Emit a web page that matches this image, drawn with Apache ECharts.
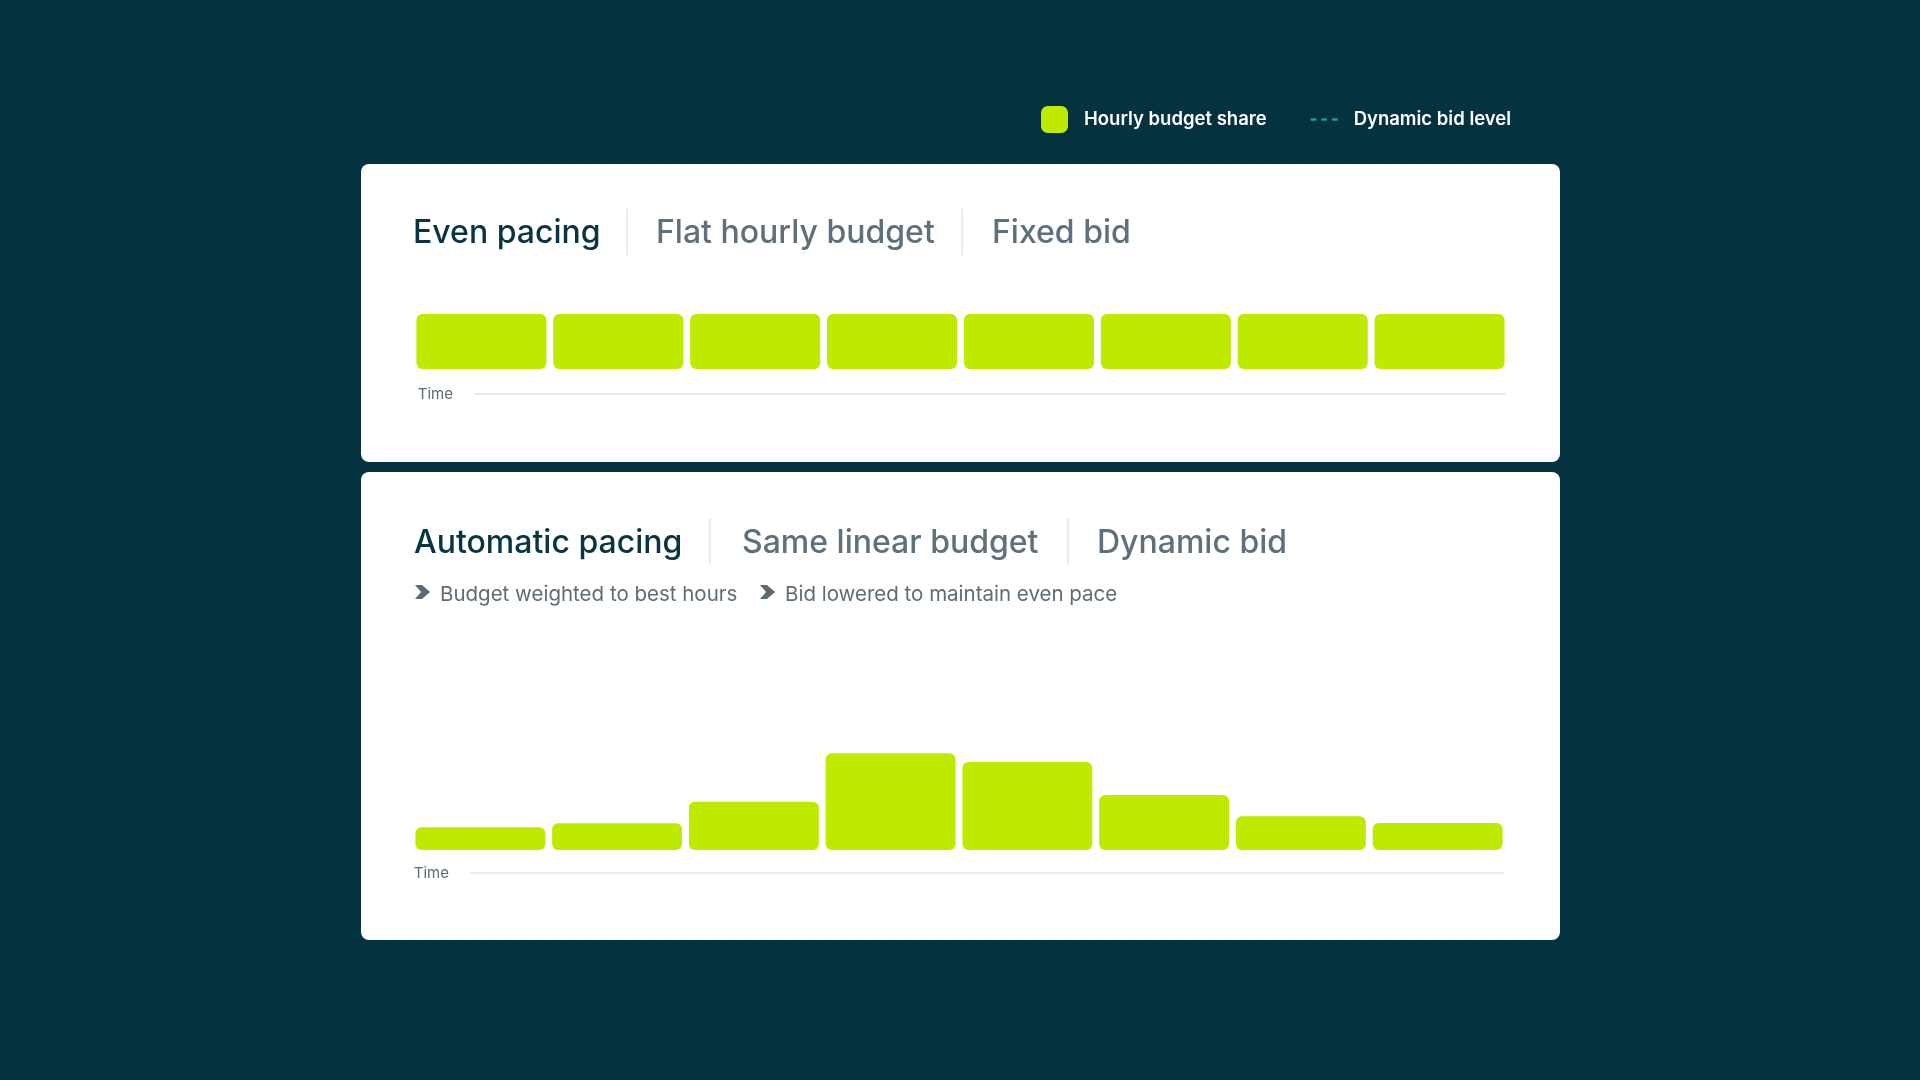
<!DOCTYPE html>
<html lang="en">
<head>
    <meta charset="utf-8">
    <title>Even pacing vs automatic pacing</title>
    <script src="https://cdn.jsdelivr.net/npm/echarts@6/dist/echarts.min.js"></script>
    <style>
        html, body { margin: 0; padding: 0; background: #04333f; }
        #chart { width: 1920px; height: 1080px; }
    </style>
</head>
<body>
<div id="chart"></div>

<script type="text/javascript">
  // time blocks of the day (not labelled in the picture)
  const timeSlots = ['00-03', '03-06', '06-09', '09-12', '12-15', '15-18', '18-21', '21-24'];
  // hourly budget share, % of daily budget
  const evenShare = [12.5, 12.5, 12.5, 12.5, 12.5, 12.5, 12.5, 12.5];
  const weightedShare = [5.7, 6.7, 12.1, 24.3, 22.1, 13.8, 8.5, 6.8];
  // dynamic bid level: in the legend, no line drawn
  const bidLevel = [];

  const topTabs = ['Even pacing', 'Flat hourly budget', 'Fixed bid'];
  const bottomTabs = ['Automatic pacing', 'Same linear budget', 'Dynamic bid'];
  const bottomNotes = ['Budget weighted to best hours', 'Bid lowered to maintain even pace'];

  const FONT = 'Inter, "Noto Sans", sans-serif';
  const LIME = '#beea00';
  const TEAL = '#1d9c8f';
  const ACTIVE = '#083541';
  const MUTED = '#5e707b';

  // tab headings with thin separators
  function tabRow(labels, xs, sepXs, top, sepTop, sepBottom) {
      const els = labels.map((t, i) => ({
          type: 'text',
          style: {
              text: t, x: xs[i], y: top,
              fill: i === 0 ? ACTIVE : MUTED,
              font: '500 32px ' + FONT,
              verticalAlign: 'top'
          }
      }));
      sepXs.forEach(x => els.push({
          type: 'line',
          shape: { x1: x, y1: sepTop, x2: x, y2: sepBottom },
          style: { stroke: '#e1e7ec', lineWidth: 1.5 }
      }));
      return els;
  }

  function chevron(x, y) {
      return {
          type: 'polygon',
          shape: { points: [[x, y], [x + 7, y], [x + 15, y + 7], [x + 7, y + 14], [x, y + 14], [x + 6, y + 7]] },
          style: { fill: '#5b6b74' }
      };
  }

  function note(text, x, y) {
      return {
          type: 'text',
          style: { text: text, x: x, y: y, fill: '#5d6d77', font: '400 20.5px ' + FONT, verticalAlign: 'top' }
      };
  }

  function timeAxis(gridIndex) {
      return {
          gridIndex: gridIndex, type: 'value', min: 0, max: 1,
          name: 'Time', nameLocation: 'start', nameGap: 22,
          nameTextStyle: { color: '#5d6b75', fontSize: 15, fontFamily: FONT },
          axisLine: { show: true, lineStyle: { color: '#e6ebef', width: 2 } },
          axisTick: { show: false }, axisLabel: { show: false }, splitLine: { show: false }
      };
  }

  function barAxis(gridIndex) {
      return {
          gridIndex: gridIndex, type: 'category', data: timeSlots,
          axisLine: { show: false }, axisTick: { show: false }, axisLabel: { show: false }
      };
  }

  function hiddenY(gridIndex, max) {
      return { gridIndex: gridIndex, type: 'value', min: 0, max: max, show: false };
  }

  const chart = echarts.init(document.getElementById('chart'));

  const option = {
      backgroundColor: '#04333f',
      animation: false,
      legend: {
          left: 1041, top: 106, padding: 0,
          itemWidth: 27, itemHeight: 27, itemGap: 44,
          data: [
              { name: 'Hourly budget share', icon: 'roundRect' },
              {
                  name: 'Dynamic bid level',
                  icon: 'path://M0 0h6v2.5H0z M11 0h6v2.5h-6z M22 0h6v2.5h-6z',
                  itemStyle: { color: TEAL, borderWidth: 0 }
              }
          ],
          formatter: n => '{g|}' + n,
          textStyle: {
              color: '#ffffff', fontSize: 18.5, fontWeight: 600, fontFamily: FONT,
              rich: { g: { width: 11 } }
          }
      },
      grid: [
          { left: 413, top: 314, width: 1095, height: 55 },
          { left: 475, top: 393, width: 1030, height: 1 },
          { left: 412, top: 651, width: 1094, height: 199 },
          { left: 471, top: 872, width: 1032, height: 1 }
      ],
      xAxis: [barAxis(0), timeAxis(1), barAxis(2), timeAxis(3)],
      yAxis: [hiddenY(0, 12.5), hiddenY(1, 1), hiddenY(2, 50), hiddenY(3, 1)],
      series: [
          {
              name: 'Hourly budget share', type: 'bar', xAxisIndex: 0, yAxisIndex: 0,
              data: evenShare, barCategoryGap: '5%',
              itemStyle: { color: LIME, borderRadius: 6 }
          },
          {
              name: 'Hourly budget share', type: 'bar', xAxisIndex: 2, yAxisIndex: 2,
              data: weightedShare, barCategoryGap: '5%',
              itemStyle: { color: LIME, borderRadius: 6 }
          },
          {
              name: 'Dynamic bid level', type: 'line', xAxisIndex: 2, yAxisIndex: 2,
              data: bidLevel, symbol: 'none',
              lineStyle: { color: TEAL, width: 2.5, type: [6, 5] },
              itemStyle: { color: TEAL }
          }
      ],
      graphic: [
          { type: 'rect', z: -10, shape: { x: 361, y: 164, width: 1199, height: 298, r: 8 }, style: { fill: '#ffffff' } },
          { type: 'rect', z: -10, shape: { x: 361, y: 472, width: 1199, height: 468, r: 8 }, style: { fill: '#ffffff' } },
          ...tabRow(topTabs, [413, 656, 992], [627, 962], 217, 209, 255),
          ...tabRow(bottomTabs, [414, 742, 1097], [710, 1068], 527, 518, 565),
          chevron(415, 585),
          note(bottomNotes[0], 440, 584),
          chevron(760, 585),
          note(bottomNotes[1], 785, 584)
      ]
  };

  chart.setOption(option);
</script>
</body>
</html>
